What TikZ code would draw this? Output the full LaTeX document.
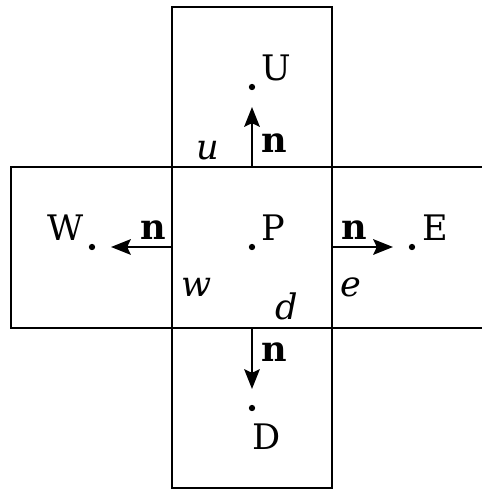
\documentclass[tikz,border=0pt]{standalone}
\usepackage{fontspec}
\setmainfont{DejaVu Serif}
\usetikzlibrary{arrows.meta}
\begin{document}
\begin{tikzpicture}[x=0.025cm, y=-0.025cm,
    cellline/.style={line width=0.8pt},
    flux/.style={line width=2pt, -{Stealth[length=14pt, width=11pt, inset=2.5pt]}},
    centre/.style={circle, fill, inner sep=0pt, minimum size=4.5pt},
    lbl/.style={anchor=base, inner sep=0pt, font=\fontsize{25}{29}\selectfont}]

    % Fix picture size
    \useasboundingbox (0,0) rectangle (482,489);

    % Draw cells
    \draw[cellline] (172,7) rectangle (332,488);
    \draw[cellline] (11,167) rectangle (172,328);
    \draw[cellline] (172,167) -- (482,167);
    \draw[cellline] (172,328) -- (482,328);

    % Cell centres
    \node[centre] (P) at (252,247) {};
    \node[centre] (U) at (252,87) {};
    \node[centre] (D) at (252,408) {};
    \node[centre] (W) at (92,247) {};
    \node[centre] (E) at (412,247) {};

    % Face midpoints and arrow ends
    \coordinate (fu) at (252,167);
    \coordinate (fd) at (252,328);
    \coordinate (fw) at (172,247);
    \coordinate (fe) at (332,247);
    \coordinate (tu) at (252,107);
    \coordinate (td) at (252,389);
    \coordinate (tw) at (111,247);
    \coordinate (te) at (393,247);

    % Normal vectors
    \draw[flux] (fu) -- (tu);
    \draw[flux] (fd) -- (td);
    \draw[flux] (fw) -- (tw);
    \draw[flux] (fe) -- (te);

    % Labels of cell centres
    \node[lbl] (lU) at (276,80) {U};
    \node[lbl] (lP) at (273,240) {P};
    \node[lbl] (lD) at (267,449) {D};
    \node[lbl] (lW) at (66,240) {W};
    \node[lbl] (lE) at (435,240) {E};

    % Labels of normals
    \node[lbl] (nu) at (274,152) {\textbf{n}};
    \node[lbl] (nd) at (274,361) {\textbf{n}};
    \node[lbl] (nw) at (153,239) {\textbf{n}};
    \node[lbl] (ne) at (354,239) {\textbf{n}};

    % Labels of faces
    \node[lbl] (su) at (208,159) {\textit{u}};
    \node[lbl] (sw) at (197,296) {\textit{w}};
    \node[lbl] (se) at (351,296) {\textit{e}};
    \node[lbl] (sd) at (287,319) {\textit{d}};

\end{tikzpicture}
\end{document}
